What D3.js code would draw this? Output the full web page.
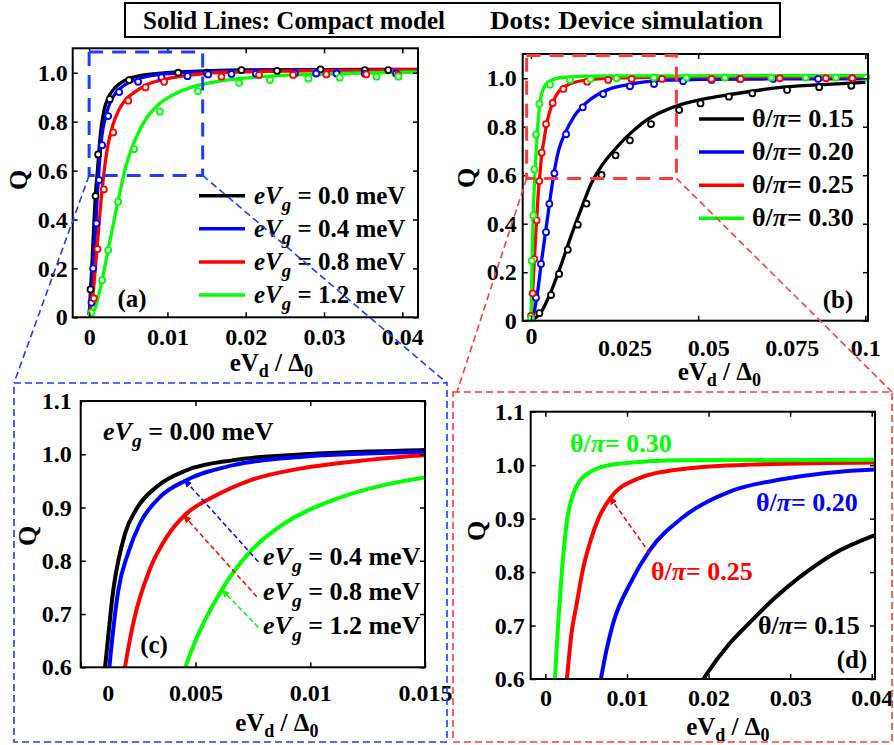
<!DOCTYPE html>
<html><head><meta charset="utf-8">
<script src="https://cdn.jsdelivr.net/npm/d3@7"></script>
<style>
body{margin:0;background:#fff}
svg{display:block}
</style>
</head><body>
<svg id="fig" width="894" height="745"></svg>
<script>
// ---------------- DATA ----------------
const vgLabels = ["0.0", "0.4", "0.8", "1.2"];          // eVg (meV)
const thetaLabels = ["0.15", "0.20", "0.25", "0.30"];   // theta/pi

// compact model curves, panel (a)/(c): [eVd/Delta0, Q]
const curveVg00 = [[0,0.01],[0.0003,0.18],[0.0006,0.38],[0.0008,0.5],[0.00106,0.6],[0.00142,0.745],[0.00193,0.851],[0.00244,0.898],[0.00331,0.939],[0.00462,0.970],[0.00665,0.989],[0.00955,0.9996],[0.015,1.008],[0.02,1.012],[0.03,1.013],[0.042,1.014]];
const curveVg04 = [[0,0.01],[0.0004,0.16],[0.0008,0.35],[0.00105,0.5],[0.00125,0.6],[0.00164,0.745],[0.00207,0.815],[0.00258,0.87],[0.00346,0.92],[0.00454,0.95],[0.00665,0.9796],[0.00955,0.995],[0.015,1.0045],[0.02,1.009],[0.03,1.011],[0.042,1.013]];
const curveVg08 = [[0,0.01],[0.0005,0.1],[0.001,0.28],[0.0015,0.47],[0.00193,0.6],[0.00229,0.683],[0.00302,0.785],[0.00375,0.845],[0.00454,0.886],[0.00578,0.92],[0.00738,0.951],[0.00955,0.973],[0.01246,0.989],[0.015,0.998],[0.02,1.004],[0.03,1.009],[0.042,1.012]];
const curveVg12 = [[0,0.0],[0.0008,0.04],[0.0015,0.13],[0.0024,0.27],[0.0032,0.4],[0.0038,0.49],[0.0044,0.58],[0.005,0.65],[0.006,0.735],[0.0074,0.818],[0.0088,0.868],[0.011,0.914],[0.0132,0.942],[0.015,0.9565],[0.018,0.972],[0.022,0.984],[0.03,0.995],[0.042,1.003]];

// device simulation dots, panel (a)
const dotsVg00 = [[0.00018,0.114],[0.00082,0.496],[0.00115,0.666],[0.00264,0.892],[0.0051,0.970],[0.01137,1.0],[0.015,1.0],[0.01946,1.011],[0.024,1.008],[0.02955,1.014],[0.0352,1.011],[0.0382,1.011]];
const dotsVg04 = [[0.0003,0.06],[0.00051,0.2],[0.00094,0.384],[0.00128,0.561],[0.00166,0.704],[0.00243,0.823],[0.00383,0.921],[0.00626,0.963],[0.00924,0.981],[0.01257,0.986],[0.0152,0.993],[0.01818,0.995],[0.0213,0.996],[0.02627,0.997],[0.029,0.997],[0.0316,0.997],[0.0352,0.996],[0.0392,0.997]];
const dotsVg08 = [[0.0006,0.078],[0.00107,0.279],[0.00188,0.523],[0.00307,0.756],[0.005,0.886],[0.0072,0.940],[0.00958,0.963],[0.0169,0.984],[0.0217,0.991],[0.02605,0.991],[0.0303,0.993],[0.0354,0.993],[0.03946,0.991]];
const dotsVg12 = [[0.0003,0.019],[0.00166,0.152],[0.00243,0.275],[0.0037,0.473],[0.00575,0.688],[0.00903,0.841],[0.0139,0.925],[0.01916,0.959],[0.02308,0.970],[0.028,0.977],[0.032,0.980],[0.0367,0.984],[0.0395,0.984]];

// compact model curves, panel (b)/(d)
const curveTh15 = [[0,0],[0.003,0.035],[0.006,0.12],[0.009,0.23],[0.012,0.35],[0.015,0.46],[0.018,0.565],[0.0198,0.61],[0.0225,0.665],[0.025,0.705],[0.028,0.75],[0.0312,0.791],[0.0353,0.834],[0.0404,0.869],[0.0455,0.894],[0.053,0.918],[0.0605,0.935],[0.0754,0.963],[0.09,0.976],[0.1,0.983]];
const curveTh20 = [[0,0],[0.001,0.04],[0.002,0.12],[0.003,0.23],[0.004,0.33],[0.005,0.43],[0.006,0.53],[0.0068,0.6],[0.0075,0.655],[0.0083,0.704],[0.0104,0.779],[0.0128,0.841],[0.0169,0.903],[0.023,0.953],[0.0292,0.974],[0.0404,0.992],[0.05,0.995],[0.07,0.997],[0.1,0.998]];
const curveTh25 = [[0,0],[0.0004,0.1],[0.001,0.25],[0.0017,0.42],[0.0023,0.55],[0.0027,0.61],[0.0032,0.685],[0.00383,0.74],[0.0046,0.805],[0.00546,0.855],[0.0065,0.9],[0.0079,0.937],[0.0112,0.974],[0.0169,0.993],[0.0251,1.001],[0.0404,1.005],[0.06,1.006],[0.1,1.006]];
const curveTh30 = [[0,0],[0.0002,0.15],[0.0005,0.35],[0.0008,0.49],[0.00117,0.6],[0.00157,0.704],[0.002,0.797],[0.0026,0.89],[0.0036,0.953],[0.00546,0.987],[0.0087,1.002],[0.0169,1.009],[0.0404,1.01],[0.1,1.011]];

// device simulation dots, panel (b)
const dotsTh15 = [[0.0025,0.031],[0.006,0.106],[0.0084,0.193],[0.011,0.293],[0.014,0.396],[0.0166,0.483],[0.0211,0.601],[0.0253,0.682],[0.0296,0.744],[0.0359,0.811],[0.0443,0.869],[0.0507,0.896],[0.0592,0.924],[0.0662,0.938],[0.0766,0.952],[0.0862,0.963],[0.0958,0.969]];
const dotsTh20 = [[0.0015,0.095],[0.003,0.234],[0.0045,0.365],[0.0055,0.482],[0.007,0.608],[0.0105,0.769],[0.0155,0.88],[0.0216,0.935],[0.0296,0.967],[0.0368,0.976],[0.0455,0.988],[0.054,0.993],[0.0625,0.997],[0.0724,0.997],[0.0859,0.997],[0.0961,1.0]];
const dotsTh25 = [[0.0,0.02],[0.0005,0.113],[0.001,0.254],[0.0017,0.414],[0.0025,0.576],[0.0032,0.693],[0.0045,0.811],[0.0065,0.898],[0.0097,0.956],[0.0168,0.986],[0.0231,0.993],[0.0301,0.997],[0.0392,0.997],[0.054,0.997],[0.0627,0.997],[0.0744,1.0],[0.0882,1.0],[0.0961,1.0]];
const dotsTh30 = [[0.0,0.01],[0.0002,0.247],[0.0007,0.434],[0.001,0.624],[0.0015,0.768],[0.0025,0.894],[0.0057,0.974],[0.0117,0.993],[0.0178,0.997],[0.0256,1.0],[0.0368,1.003],[0.0465,1.003],[0.058,1.003],[0.0719,1.003],[0.0822,1.003],[0.0912,1.003],[0.1003,1.003]];

// ticks
const xTicksA = [0, 0.01, 0.02, 0.03, 0.04];
const xTicksB = [0, 0.025, 0.05, 0.075, 0.1];
const xTicksC = [0, 0.005, 0.01, 0.015];
const xTicksD = [0, 0.01, 0.02, 0.03, 0.04];
const yTicksAB = [0, 0.2, 0.4, 0.6, 0.8, 1.0];
const yTicksCD = [0.6, 0.7, 0.8, 0.9, 1.0, 1.1];

// ---------------- STYLE ----------------
const FONT = "Liberation Serif";
const colors = ["#000000", "#0000ff", "#ff0000", "#00ff00"];
const svg = d3.select("#fig");

const fmtX = v => v === 0 ? "0" : String(+v.toPrecision(3));
const fmtY = v => v === 0 ? "0" : d3.format(".1f")(v);

function panel(cfg) {
  const x = d3.scaleLinear().domain(cfg.xd).range([cfg.l, cfg.r]);
  const y = d3.scaleLinear().domain(cfg.yd).range([cfg.b, cfg.t]);
  const g = svg.append("g");
  const cid = "clip_" + cfg.name;
  svg.append("clipPath").attr("id", cid).append("rect")
    .attr("x", cfg.l).attr("y", cfg.t).attr("width", cfg.r - cfg.l).attr("height", cfg.b - cfg.t);

  const line = d3.line().x(d => x(d[0])).y(d => y(d[1])).curve(d3.curveMonotoneX);
  const pg = g.append("g").attr("clip-path", `url(#${cid})`);
  cfg.curves.forEach((s, i) => {
    pg.append("path").attr("d", line(s)).attr("fill", "none")
      .attr("stroke", colors[i]).attr("stroke-width", cfg.lw).attr("stroke-linejoin", "round");
  });
  if (cfg.dots) {
    cfg.dots.forEach((s, i) => {
      g.append("g").selectAll("circle").data(s).join("circle")
        .attr("cx", d => x(d[0])).attr("cy", d => y(d[1])).attr("r", 3)
        .attr("fill", "#fff").attr("stroke", colors[i]).attr("stroke-width", 1.8);
    });
  }

  const fs = 24;
  const ax = g.append("g").attr("transform", `translate(0,${cfg.b})`)
    .call(d3.axisBottom(x).tickValues(cfg.xt).tickFormat(fmtX).tickSize(-5).tickPadding(cfg.xpad));
  const axT = g.append("g").attr("transform", `translate(0,${cfg.t})`)
    .call(d3.axisTop(x).tickValues(cfg.xt).tickFormat("").tickSize(-5));
  const ay = g.append("g").attr("transform", `translate(${cfg.l},0)`)
    .call(d3.axisLeft(y).tickValues(cfg.yt).tickFormat(fmtY).tickSize(-5).tickPadding(cfg.ypad));
  const ayR = g.append("g").attr("transform", `translate(${cfg.r},0)`)
    .call(d3.axisRight(y).tickValues(cfg.yt).tickFormat("").tickSize(-5));
  [ax, axT, ay, ayR].forEach(a => {
    a.select(".domain").remove();
    a.selectAll("line").attr("stroke", "#000").attr("stroke-width", 1.5);
    a.selectAll("text").attr("font-size", fs).attr("fill", "#000");
  });
  ax.selectAll("text").attr("dy", "0.75em");
  if (cfg.hideTick) {
    [ax, axT].forEach(a => a.selectAll(".tick").filter(d => cfg.hideTick.includes(d)).select("line").remove());
  }
  if (cfg.labelShift) {
    ax.selectAll(".tick text").attr("transform", d => cfg.labelShift(d));
  }
  // frame
  g.append("rect").attr("x", cfg.l).attr("y", cfg.t).attr("width", cfg.r - cfg.l).attr("height", cfg.b - cfg.t)
    .attr("fill", "none").attr("stroke", "#000").attr("stroke-width", 2);

  // axis titles
  const xl = g.append("text").attr("x", (cfg.l + cfg.r) / 2 + cfg.xlOff).attr("y", cfg.xlY)
    .attr("text-anchor", "middle").attr("font-size", 25);
  xl.append("tspan").text("eV");
  xl.append("tspan").attr("font-size", 18).attr("dy", 6).text("d");
  xl.append("tspan").attr("dy", -6).text(" / Δ");
  xl.append("tspan").attr("font-size", 18).attr("dy", 6).text("0");
  g.append("text").attr("transform", `translate(${cfg.ylX},${cfg.ylY}) rotate(-90)`)
    .attr("text-anchor", "middle").attr("font-size", 26).text("Q");
  g.append("text").attr("x", cfg.tagX).attr("y", cfg.tagY).attr("text-anchor", "middle")
    .attr("font-size", 25).text(cfg.tag);
  return {x, y, g};
}

// Panel (a)
const A = panel({name: "a", l: 72.7, r: 418, t: 48.3, b: 317.3, xd: [-0.0021, 0.042], yd: [0, 1.1],
  xt: xTicksA, yt: yTicksAB, xpad: 10, ypad: 5, lw: 3.3,
  curves: [curveVg00, curveVg04, curveVg08, curveVg12], dots: [dotsVg00, dotsVg04, dotsVg08, dotsVg12],
  xlOff: 26, xlY: 371, ylX: 27, ylY: 180, tag: "(a)", tagX: 132, tagY: 307});

// Panel (b)
const B = panel({name: "b", l: 522.7, r: 868, t: 54, b: 320.7, xd: [-0.00248, 0.1008], yd: [0, 1.1],
  xt: xTicksB, yt: yTicksAB, xpad: 5, ypad: 6, lw: 3.3, hideTick: [0.025, 0.075],
  labelShift: d => (d === 0 ? "" : (d === 0.1 ? "translate(0,12)" : "translate(10,12)")),
  curves: [curveTh15, curveTh20, curveTh25, curveTh30], dots: [dotsTh15, dotsTh20, dotsTh25, dotsTh30],
  xlOff: 24, xlY: 380, ylX: 475, ylY: 178, tag: "(b)", tagX: 838, tagY: 308});

// Panel (c)
const C = panel({name: "c", l: 80.7, r: 425, t: 401, b: 667.3, xd: [0, 0.015], yd: [0.6, 1.1],
  xt: xTicksC, yt: yTicksCD, xpad: 16, ypad: 9, lw: 4,
  labelShift: d => (d === 0 ? "translate(27,0)" : ""),
  curves: [curveVg00, curveVg04, curveVg08, curveVg12],
  xlOff: 24, xlY: 731, ylX: 36, ylY: 536, tag: "(c)", tagX: 154, tagY: 653});

// Panel (d)
const D = panel({name: "d", l: 530.7, r: 875, t: 411.7, b: 679, xd: [-0.0018, 0.0404], yd: [0.6, 1.1],
  xt: xTicksD, yt: yTicksCD, xpad: 9, ypad: 6, lw: 4,
  curves: [curveTh15, curveTh20, curveTh25, curveTh30],
  xlOff: 25, xlY: 735, ylX: 485, ylY: 531, tag: "(d)", tagX: 852, tagY: 668});

// ---------- text helpers ----------
function eVgText(sel, val) {
  sel.append("tspan").attr("font-style", "italic").text("eV");
  sel.append("tspan").attr("font-style", "italic").attr("font-size", "0.75em").attr("dy", 7).text("g");
  sel.append("tspan").attr("dy", -7).text(" = " + val + " meV");
}
function thetaText(sel, val) {
  sel.append("tspan").text("θ/");
  sel.append("tspan").attr("font-style", "italic").text("π");
  sel.append("tspan").text("= " + val);
}

// Legend (a)
vgLabels.forEach((v, i) => {
  const yy = 195.7 + i * 33.1;
  svg.append("line").attr("x1", 199).attr("x2", 245).attr("y1", yy).attr("y2", yy)
    .attr("stroke", colors[i]).attr("stroke-width", 3.5);
  const t = svg.append("text").attr("x", 254).attr("y", yy + 8).attr("font-size", 25).attr("fill", "#000");
  eVgText(t, v);
});
// Legend (b)
thetaLabels.forEach((v, i) => {
  const yy = 119 + i * 33.1;
  svg.append("line").attr("x1", 699).attr("x2", 744).attr("y1", yy).attr("y2", yy)
    .attr("stroke", colors[i]).attr("stroke-width", 3.5);
  const t = svg.append("text").attr("x", 752).attr("y", yy + 8).attr("font-size", 26).attr("fill", "#000");
  thetaText(t, v);
});

// markers
const defs = svg.append("defs");
colors.forEach((c, i) => {
  defs.append("marker").attr("id", "arr" + i).attr("viewBox", "0 0 10 10").attr("refX", 9).attr("refY", 5)
    .attr("markerWidth", 9).attr("markerHeight", 9).attr("markerUnits", "userSpaceOnUse").attr("orient", "auto")
    .append("path").attr("d", "M0,1 L10,5 L0,9 Z").attr("fill", c);
});

// Panel (c) annotations
svg.append("text").attr("x", 103).attr("y", 440).attr("font-size", 26).call(s => eVgText(s, "0.00"));
const cArrows = [
  {i: 1, from: [0.00774, 0.798], to: [0.0045, 0.953], lab: "0.4", ly: 565},
  {i: 2, from: [0.00767, 0.7325], to: [0.00447, 0.886], lab: "0.8", ly: 599.5},
  {i: 3, from: [0.00774, 0.675], to: [0.00614, 0.746], lab: "1.2", ly: 633.5}
];
cArrows.forEach(a => {
  svg.append("line").attr("x1", C.x(a.from[0])).attr("y1", C.y(a.from[1]))
    .attr("x2", C.x(a.to[0])).attr("y2", C.y(a.to[1]))
    .attr("stroke", colors[a.i]).attr("stroke-width", 1.5).attr("stroke-dasharray", "5,3")
    .attr("marker-end", `url(#arr${a.i})`);
  svg.append("text").attr("x", 263).attr("y", a.ly).attr("font-size", 26).call(s => eVgText(s, a.lab));
});

// Panel (d) annotations
const dLabels = [
  {i: 3, v: "0.30", x: 570, y: 452},
  {i: 1, v: "0.20", x: 756, y: 510.5},
  {i: 2, v: "0.25", x: 651, y: 580},
  {i: 0, v: "0.15", x: 758, y: 634}
];
dLabels.forEach(d => {
  svg.append("text").attr("x", d.x).attr("y", d.y).attr("font-size", 26).attr("fill", colors[d.i])
    .call(s => thetaText(s, d.v));
});
svg.append("line").attr("x1", D.x(0.01282)).attr("y1", D.y(0.8345))
  .attr("x2", D.x(0.00783)).attr("y2", D.y(0.9414))
  .attr("stroke", colors[2]).attr("stroke-width", 1.5).attr("stroke-dasharray", "5,3")
  .attr("marker-end", "url(#arr2)");

// zoom rectangles
const zoomBlue = "#1f3dff", zoomRed = "#ff3b3b";
svg.append("rect").attr("x", A.x(0)).attr("y", A.y(1.085)).attr("width", A.x(0.0145) - A.x(0))
  .attr("height", A.y(0.58) - A.y(1.085)).attr("fill", "none").attr("stroke", zoomBlue)
  .attr("stroke-width", 3).attr("stroke-dasharray", "14,9");
svg.append("rect").attr("x", B.x(-0.0013)).attr("y", B.y(1.094)).attr("width", B.x(0.0435) - B.x(-0.0013))
  .attr("height", B.y(0.587) - B.y(1.094)).attr("fill", "none").attr("stroke", zoomRed)
  .attr("stroke-width", 3).attr("stroke-dasharray", "14,9");

// outer boxes
svg.append("rect").attr("x", 14).attr("y", 383).attr("width", 433).attr("height", 359)
  .attr("fill", "none").attr("stroke", zoomBlue).attr("stroke-width", 1.6).attr("stroke-dasharray", "7,4");
svg.append("rect").attr("x", 453).attr("y", 392).attr("width", 439).attr("height", 350)
  .attr("fill", "none").attr("stroke", zoomRed).attr("stroke-width", 1.6).attr("stroke-dasharray", "7,4");

// connectors
[[A.x(0), A.y(0.58), 14, 383], [A.x(0.0145), A.y(0.58), 447, 383]].forEach(p => {
  svg.append("line").attr("x1", p[0]).attr("y1", p[1]).attr("x2", p[2]).attr("y2", p[3])
    .attr("stroke", zoomBlue).attr("stroke-width", 1.6).attr("stroke-dasharray", "7,4");
});
[[B.x(-0.0013), B.y(0.587), 457, 392], [B.x(0.0435), B.y(0.587), 892, 392]].forEach(p => {
  svg.append("line").attr("x1", p[0]).attr("y1", p[1]).attr("x2", p[2]).attr("y2", p[3])
    .attr("stroke", zoomRed).attr("stroke-width", 1.6).attr("stroke-dasharray", "7,4");
});

// title box
svg.append("rect").attr("x", 125).attr("y", 3).attr("width", 655).attr("height", 34)
  .attr("fill", "#fff").attr("stroke", "#000").attr("stroke-width", 2);
svg.append("text").attr("x", 143).attr("y", 29).attr("font-size", 26)
  .attr("textLength", 302).attr("lengthAdjust", "spacingAndGlyphs")
  .text("Solid Lines: Compact model");
svg.append("text").attr("x", 490).attr("y", 29).attr("font-size", 26)
  .attr("textLength", 273).attr("lengthAdjust", "spacingAndGlyphs")
  .text("Dots: Device simulation");

// apply font to every text element
svg.selectAll("text").attr("font-family", FONT).attr("font-weight", "bold");
svg.selectAll("g").attr("font-family", null).attr("font-size", function() {
  return this.getAttribute("font-size") === "10" ? null : this.getAttribute("font-size");
});
</script>
</body></html>
